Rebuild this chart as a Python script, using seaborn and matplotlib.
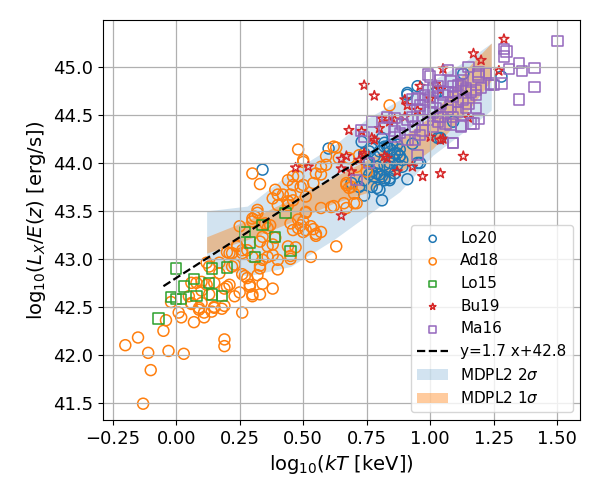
import matplotlib
matplotlib.use("Agg")
import matplotlib.pyplot as plt
import seaborn as sns

# ----------------------------
# Data
# ----------------------------

lo20_x = [0.34, 0.60, 0.95, 0.91, 1.03, 0.81, 0.73, 0.74, 0.76, 0.75, 0.76, 0.78, 0.80, 0.83,
          0.82, 0.85, 0.87, 0.86, 0.88, 0.88, 0.89, 0.84, 0.86, 0.87, 0.82, 0.79, 0.77, 0.78,
          0.80, 0.82, 0.84, 0.76, 0.74, 0.72, 0.77, 0.79, 0.81, 0.91, 0.95, 0.74, 0.80, 0.69,
          1.03, 0.96, 1.28, 1.13, 0.91, 0.77, 0.82, 0.84, 0.87, 0.88, 0.84, 0.89, 0.86, 0.79,
          0.81, 0.82, 0.84, 0.93, 1.09, 1.02, 1.04]
lo20_y = [43.93, 44.15, 44.80, 44.73, 44.74, 44.26, 44.22, 44.10, 44.12, 44.03, 44.01, 44.07,
          44.12, 44.17, 44.21, 44.19, 44.19, 44.10, 44.07, 44.14, 44.03, 44.00, 44.03, 43.98,
          43.98, 43.96, 43.91, 43.86, 43.88, 43.84, 43.84, 43.88, 43.82, 43.75, 43.75, 43.74,
          43.61, 43.83, 44.00, 43.66, 43.72, 43.79, 44.26, 44.00, 44.90, 44.93, 44.71, 44.15,
          44.17, 44.15, 44.10, 44.07, 43.96, 43.96, 43.89, 43.89, 43.86, 43.82, 43.82, 44.20,
          44.43, 44.73, 44.26]

ad18_x = [-0.13, -0.20, -0.15, -0.11, -0.10, -0.03, 0.03, -0.05, -0.04, -0.02, 0.01, 0.02,
          0.07, 0.19, 0.19, 0.26, 0.09, 0.11, 0.11, 0.14, 0.15, 0.18, 0.19, 0.06, 0.10, 0.05,
          0.08, 0.10, 0.15, 0.20, 0.21, 0.25, 0.23, 0.30, 0.33, 0.29, 0.27, 0.26, 0.33, 0.17,
          0.23, 0.21, 0.26, 0.30, 0.10, 0.13, 0.34, 0.38, 0.28, 0.22, 0.12, 0.17, 0.20, 0.24,
          0.25, 0.28, 0.33, 0.40, 0.36, 0.38, 0.40, 0.36, 0.38, 0.39, 0.45, 0.45, 0.47, 0.44,
          0.53, 0.63, 0.46, 0.50, 0.49, 0.50, 0.48, 0.54, 0.55, 0.57, 0.55, 0.45, 0.51, 0.57,
          0.61, 0.67, 0.71, 0.32, 0.31, 0.36, 0.37, 0.33, 0.34, 0.06, 0.09, 0.15, 0.19, 0.12,
          0.06, 0.48, 0.63, 0.59, 0.59, 0.50, 0.55, 0.54, 0.48, 0.46, 0.49, 0.45, 0.46, 0.44,
          0.51, 0.30, 0.33, 0.39, 0.40, 0.38, 0.40, 0.32, 0.30, 0.30, 0.35, 0.48, 0.51, 0.53,
          0.24, 0.22, 0.26, 0.34, 0.32, 0.29, 0.30, 0.13, 0.70, 0.70, 0.69, 0.84, 0.62, 0.57,
          0.67, 0.68, 0.66, 0.62, 0.50, 0.51, 0.50, 0.57, 0.64, 0.68, 0.72, 0.71, 0.75, 0.67,
          0.44, 0.42, 0.44, 0.46]
ad18_y = [41.49, 42.10, 42.18, 42.02, 41.84, 42.04, 42.01, 42.25, 42.36, 42.55, 42.44, 42.39,
          42.34, 42.16, 42.09, 42.44, 42.49, 42.39, 42.44, 42.45, 42.50, 42.48, 42.51, 42.54,
          42.54, 42.61, 42.75, 42.76, 42.75, 42.71, 42.73, 42.65, 42.61, 42.61, 42.63, 42.73,
          42.82, 42.84, 42.90, 42.85, 42.94, 43.06, 43.06, 43.02, 42.67, 42.63, 42.74, 42.69,
          42.80, 42.92, 42.96, 42.96, 43.07, 43.14, 43.34, 43.09, 42.93, 42.89, 43.02, 43.04,
          42.99, 43.13, 43.15, 43.22, 43.00, 43.03, 43.12, 43.13, 43.02, 43.13, 43.30, 43.28,
          43.35, 43.39, 43.41, 43.31, 43.26, 43.28, 43.24, 43.37, 43.48, 43.53, 43.54, 43.53,
          43.58, 43.48, 43.44, 43.32, 43.35, 43.18, 43.23, 42.53, 42.47, 42.49, 42.69, 42.73,
          42.75, 44.14, 44.16, 44.07, 43.98, 44.01, 43.89, 43.79, 43.86, 43.77, 43.75, 43.67,
          43.61, 43.56, 43.49, 43.89, 43.78, 43.72, 43.67, 43.63, 43.56, 43.51, 43.42, 43.39,
          43.37, 43.32, 43.30, 43.34, 43.13, 43.06, 43.09, 42.99, 42.83, 42.71, 42.63, 42.92,
          43.68, 43.58, 43.75, 44.60, 44.17, 43.88, 43.77, 43.74, 43.58, 43.55, 43.77, 43.65,
          44.03, 43.96, 44.05, 44.05, 44.08, 43.96, 43.91, 43.79, 43.82, 43.67, 43.60, 43.86]

lo15_x = [-0.07, 0.00, -0.02, 0.00, 0.02, 0.03, 0.07, 0.08, 0.13, 0.14, 0.18, 0.14, 0.20,
          0.31, 0.29, 0.27, 0.34, 0.39, 0.45, 0.43]
lo15_y = [42.38, 42.90, 42.60, 42.58, 42.58, 42.71, 42.79, 42.61, 42.75, 42.63, 42.61, 42.90,
          42.91, 43.02, 43.17, 43.28, 43.35, 43.23, 43.08, 43.48]

bu19_x = [1.29, 1.17, 1.20, 1.27, 1.05, 1.02, 0.96, 0.90, 1.00, 1.04, 1.15, 0.74, 0.78, 0.81,
          0.86, 0.68, 0.73, 0.77, 0.78, 0.74, 0.67, 0.65, 0.69, 0.82, 0.87, 0.93, 0.97, 1.04,
          1.13, 0.90, 1.04, 0.47, 0.52, 0.65, 0.80, 0.84, 0.65, 0.72, 0.74, 0.83, 1.05, 1.00,
          0.91, 0.95]
bu19_y = [45.29, 45.14, 45.07, 44.96, 44.98, 44.82, 44.80, 44.66, 44.67, 44.76, 44.47, 44.81,
          44.70, 44.46, 44.45, 44.34, 44.33, 44.26, 44.24, 44.10, 44.07, 44.04, 43.91, 44.07,
          43.91, 43.96, 43.86, 43.89, 44.07, 44.48, 44.24, 43.95, 43.96, 43.45, 44.36, 44.43,
          43.94, 44.03, 44.08, 44.05, 44.25, 44.27, 44.60, 44.55]

ma16_x = [1.50, 1.29, 1.30, 1.29, 1.35, 1.41, 1.36, 1.31, 1.41, 1.35, 1.28, 1.25, 1.24, 1.22,
          1.19, 1.19, 1.15, 1.12, 1.13, 1.11, 1.14, 1.16, 1.18, 1.20, 1.18, 1.19, 1.17, 1.12,
          1.09, 1.07, 1.04, 1.00, 0.99, 1.08, 1.09, 1.07, 1.05, 1.09, 1.11, 1.13, 1.14, 1.11,
          1.09, 1.08, 1.04, 1.02, 1.00, 0.99, 0.97, 1.01, 1.06, 1.03, 1.01, 0.98, 1.01, 1.08,
          0.74, 0.73, 0.77, 0.82, 0.83, 0.86, 0.86, 0.89, 0.91, 0.93, 0.95, 0.96, 0.93, 0.95,
          0.98, 0.99, 1.10, 1.12, 1.14, 1.18, 1.19, 1.24, 1.07, 1.03, 0.96, 0.94, 0.95, 1.09,
          0.76, 0.71, 0.88, 0.91, 0.86, 0.94, 0.97, 1.01, 1.04, 1.00, 1.03, 1.07, 1.15, 1.16,
          1.12]
ma16_y = [45.27, 45.19, 45.16, 45.11, 45.04, 44.99, 44.96, 44.98, 44.79, 44.66, 44.83, 44.81,
          44.83, 44.94, 44.95, 44.92, 45.00, 44.93, 44.86, 44.81, 44.78, 44.74, 44.71, 44.78,
          44.57, 44.46, 44.41, 44.39, 44.21, 44.97, 44.86, 44.90, 44.92, 44.85, 44.80, 44.74,
          44.71, 44.69, 44.64, 44.66, 44.57, 44.53, 44.48, 44.59, 44.62, 44.57, 44.53, 44.45,
          44.34, 44.38, 44.41, 44.48, 44.64, 44.71, 44.78, 44.40, 44.27, 44.34, 44.43, 44.36,
          44.48, 44.47, 44.33, 44.40, 44.45, 44.48, 44.55, 44.60, 44.66, 44.67, 44.66, 44.76,
          44.73, 44.80, 44.76, 44.76, 44.90, 44.81, 44.55, 44.43, 44.29, 44.24, 44.08, 44.21,
          44.00, 43.82, 44.31, 44.24, 44.27, 44.38, 44.45, 44.52, 44.48, 44.69, 44.80, 44.74,
          44.62, 44.41, 44.38]

# MDPL2 bands
band_x = [0.12, 0.28, 0.45, 0.62, 0.75, 0.88, 1.01, 1.15, 1.24]
sig2_lo = [42.95, 42.82, 42.92, 43.20, 43.45, 43.70, 44.08, 44.36, 44.55]
sig2_hi = [43.50, 43.55, 43.90, 44.18, 44.46, 44.66, 44.86, 45.08, 45.25]
sig1_lo = [43.06, 43.20, 43.38, 43.58, 43.69, 43.90, 44.15, 44.55, 44.86]
sig1_hi = [43.23, 43.40, 43.62, 43.85, 44.03, 44.25, 44.50, 45.00, 45.25]

# best fit
fit_slope = 1.7
fit_intercept = 42.8
fit_xrange = [-0.05, 1.15]

# ----------------------------
# Plot
# ----------------------------

fig, ax = plt.subplots(figsize=(6, 5), dpi=100)
fig.subplots_adjust(left=0.172, right=0.967, bottom=0.16, top=0.96)

ax.fill_between(band_x, sig2_lo, sig2_hi, color="tab:blue", alpha=0.2,
                linewidth=0, label=r"MDPL2 2$\sigma$", zorder=0.5)
ax.fill_between(band_x, sig1_lo, sig1_hi, color="tab:orange", alpha=0.4,
                linewidth=0, label=r"MDPL2 1$\sigma$", zorder=0.6)

groups = [
    (lo20_x, lo20_y, "o", "tab:blue", "Lo20", 62),
    (ad18_x, ad18_y, "o", "tab:orange", "Ad18", 62),
    (lo15_x, lo15_y, "s", "tab:green", "Lo15", 56),
    (bu19_x, bu19_y, "*", "tab:red", "Bu19", 55),
    (ma16_x, ma16_y, "s", "tab:purple", "Ma16", 56),
]
for gx, gy, mk, col, lab, size in groups:
    sns.scatterplot(x=gx, y=gy, marker=mk, s=size, facecolor="none",
                    edgecolor=col, linewidth=1.1, label=lab, ax=ax)

fit_y = [fit_slope * v + fit_intercept for v in fit_xrange]
sns.lineplot(x=fit_xrange, y=fit_y, color="black", linestyle="--",
             linewidth=1.6, label="y=1.7 x+42.8", ax=ax)

ax.set_xlim(-0.287, 1.59)
ax.set_ylim(41.32, 45.49)
ax.set_xticks([-0.25, 0.0, 0.25, 0.5, 0.75, 1.0, 1.25, 1.5])
ax.set_yticks([41.5, 42.0, 42.5, 43.0, 43.5, 44.0, 44.5, 45.0])
ax.grid(True, color="#b0b0b0", linewidth=0.9)
ax.tick_params(labelsize=13)

ax.set_xlabel(r"log$_{10}$($kT$ [keV])", fontsize=14)
ax.set_ylabel(r"log$_{10}$($L_X/E(z)$ [erg/s])", fontsize=14)

handles, labels = ax.get_legend_handles_labels()
order = ["Lo20", "Ad18", "Lo15", "Bu19", "Ma16", "y=1.7 x+42.8",
         r"MDPL2 2$\sigma$", r"MDPL2 1$\sigma$"]
hmap = dict(zip(labels, handles))
ax.legend([hmap[k] for k in order], order, loc="lower right",
          fontsize=11, markerscale=0.65)

plt.savefig("out.png")
plt.close()
